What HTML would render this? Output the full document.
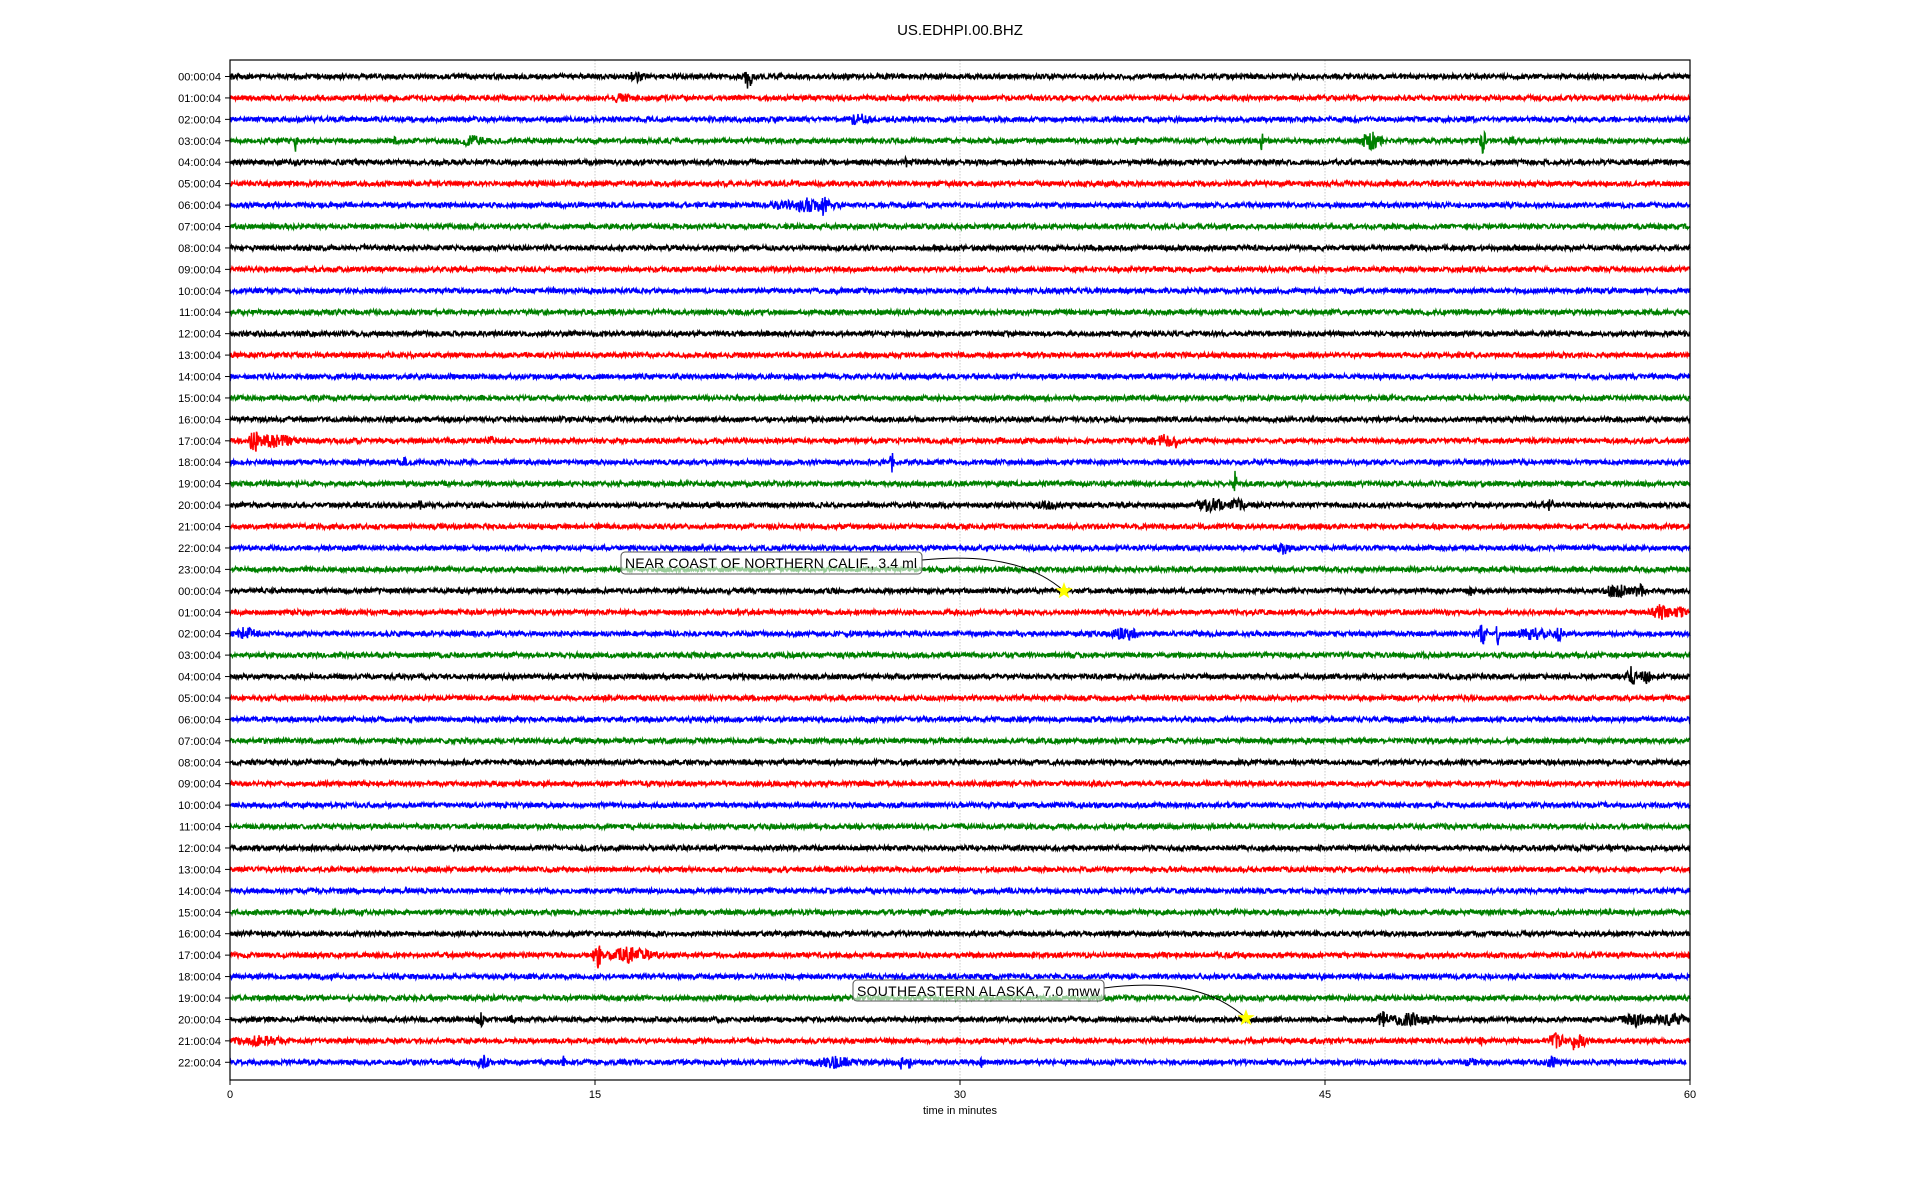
<!DOCTYPE html>
<html><head><meta charset="utf-8"><style>
html,body{margin:0;padding:0;background:#fff;width:1920px;height:1200px;overflow:hidden}
svg{display:block}
text{font-family:"Liberation Sans","DejaVu Sans",sans-serif;fill:#000}
</style></head><body>
<svg id="s" width="1920" height="1200" xmlns="http://www.w3.org/2000/svg">
<text x="960" y="35" font-size="15" text-anchor="middle">US.EDHPI.00.BHZ</text>
<g id="grid" stroke="#bbb" stroke-width="0.8" stroke-dasharray="1.5,1.5">
<line x1="595" y1="60" x2="595" y2="1080"/><line x1="960" y1="60" x2="960" y2="1080"/><line x1="1325" y1="60" x2="1325" y2="1080"/>
</g>
<g id="tr"></g>
<rect x="230" y="60" width="1460" height="1020" fill="none" stroke="#000" stroke-width="1.2"/>
<g id="lab" font-size="11"></g>
<g font-size="11" text-anchor="middle">
<line x1="230" y1="1080" x2="230" y2="1085" stroke="#000"/><text x="230" y="1098">0</text>
<line x1="595" y1="1080" x2="595" y2="1085" stroke="#000"/><text x="595" y="1098">15</text>
<line x1="960" y1="1080" x2="960" y2="1085" stroke="#000"/><text x="960" y="1098">30</text>
<line x1="1325" y1="1080" x2="1325" y2="1085" stroke="#000"/><text x="1325" y="1098">45</text>
<line x1="1690" y1="1080" x2="1690" y2="1085" stroke="#000"/><text x="1690" y="1098">60</text>
<text x="960" y="1114">time in minutes</text>
</g>
<path d="M922,560 C1000,552 1040,570 1064,591" fill="none" stroke="#000" stroke-width="1"/>
<rect x="621" y="552" width="301" height="22" rx="4" fill="#fff" fill-opacity="0.6" stroke="#555"/>
<text x="625" y="568" font-size="14" textLength="292">NEAR COAST OF NORTHERN CALIF., 3.4 ml</text>
<path d="M1104,988 C1180,978 1220,995 1246,1018" fill="none" stroke="#000" stroke-width="1"/>
<rect x="853" y="980" width="251" height="21" rx="4" fill="#fff" fill-opacity="0.6" stroke="#555"/>
<text x="857" y="996" font-size="14" textLength="243">SOUTHEASTERN ALASKA, 7.0 mww</text>
<g id="stars"></g>
</svg>
<script>
var seed=12345;function r(){seed=(seed*16807)%2147483647;return seed/2147483647;}
var cols=["#000","#f00","#00f","#008000"];
var ev={0:[[21.3,16,0.15],[16.7,4,0.5]],1:[[16.1,4,0.5]],2:[[25.8,5,0.6],[27.3,3,0.1]],
3:[[2.7,10,0.05],[9.9,4,1],[42.4,14,0.05],[46.9,8,0.6],[51.5,14,0.1],[52.7,4,0.2],[6.8,4,0.1],[37.2,3,0.1]],
4:[[27.8,4,0.1]],6:[[24.4,14,0.1],[23.8,6,1.5],[22.5,3,0.3]],
17:[[1,14,0.2],[1.8,6,1.2],[10.7,4,0.2],[31.6,3,0.1],[38.4,5,0.8],[38.9,8,0.1]],
18:[[7.2,6,0.1],[27.2,10,0.05]],19:[[41.3,14,0.05]],
20:[[7.8,4,0.1],[33.6,4,0.5],[40.3,6,0.8],[41.4,6,0.4],[54.2,5,0.3]],
22:[[43.3,6,0.3]],24:[[51,4,0.2],[57,6,0.7],[57.9,6,0.3]],25:[[58.8,7,0.6],[59.6,6,0.3]],
26:[[0.6,5,0.8],[36.8,6,0.7],[51.5,12,0.2],[52.1,12,0.05],[53.5,5,1],[54.6,7,0.2]],
28:[[57.6,10,0.2],[58.2,7,0.3]],41:[[15.1,14,0.2],[16.4,7,1.3]],43:[[10.8,3,0.1]],
44:[[10.3,6,0.2],[11.6,4,0.1],[47.4,7,0.3],[48.5,5,1.5],[57.8,6,0.8],[59.2,6,0.8]],
45:[[1.2,4,1.5],[54.5,6,0.6],[55.2,12,0.05],[55.5,6,0.3],[51.4,4,0.1]],
46:[[10.4,6,0.3],[13.7,6,0.1],[24.8,5,1.2],[27.6,10,0.05],[27.9,6,0.1],[30.9,5,0.1],[51,3,0.3],[54.3,5,0.3]]};
var h="",lab="";
for(var i=0;i<47;i++){
 var y=76.5+i*21.43,pts=[],e=ev[i]||[],n=(i==46?1456:1460);
 for(var k=0;k<=n*2;k+=1){var x=230+k/2,t=k/2/1460*60,a=2.4;
  for(var j=0;j<e.length;j++){var d=t-e[j][0];if(Math.abs(d)<e[j][2]+0.05)a=Math.max(a,e[j][1]*(1-Math.abs(d)/(e[j][2]+0.05))+2);}
  pts.push(x.toFixed(1)+","+(y+(r()*2-1)*a).toFixed(1));}
 h+='<polyline fill="none" stroke-width="1.5" stroke="'+cols[i%4]+'" points="'+pts.join(" ")+'"/>';
 var hr=(i<24?i:i-24);hr=(hr<10?"0":"")+hr;
 lab+='<line x1="225" y1="'+y+'" x2="230" y2="'+y+'" stroke="#000"/><text x="221" y="'+(y+4)+'" text-anchor="end">'+hr+':00:04</text>';
}
document.getElementById("tr").innerHTML=h;document.getElementById("lab").innerHTML=lab;
function star(cx,cy,R){var p=[];for(var k=0;k<10;k++){var rr=k%2?R*0.4:R,a=-Math.PI/2+k*Math.PI/5;p.push((cx+rr*Math.cos(a)).toFixed(1)+","+(cy+rr*Math.sin(a)).toFixed(1));}return '<polygon fill="#ff0" points="'+p.join(" ")+'"/>';}
document.getElementById("stars").innerHTML=star(1064,591,9)+star(1246,1018,9);
</script>
</body></html>
